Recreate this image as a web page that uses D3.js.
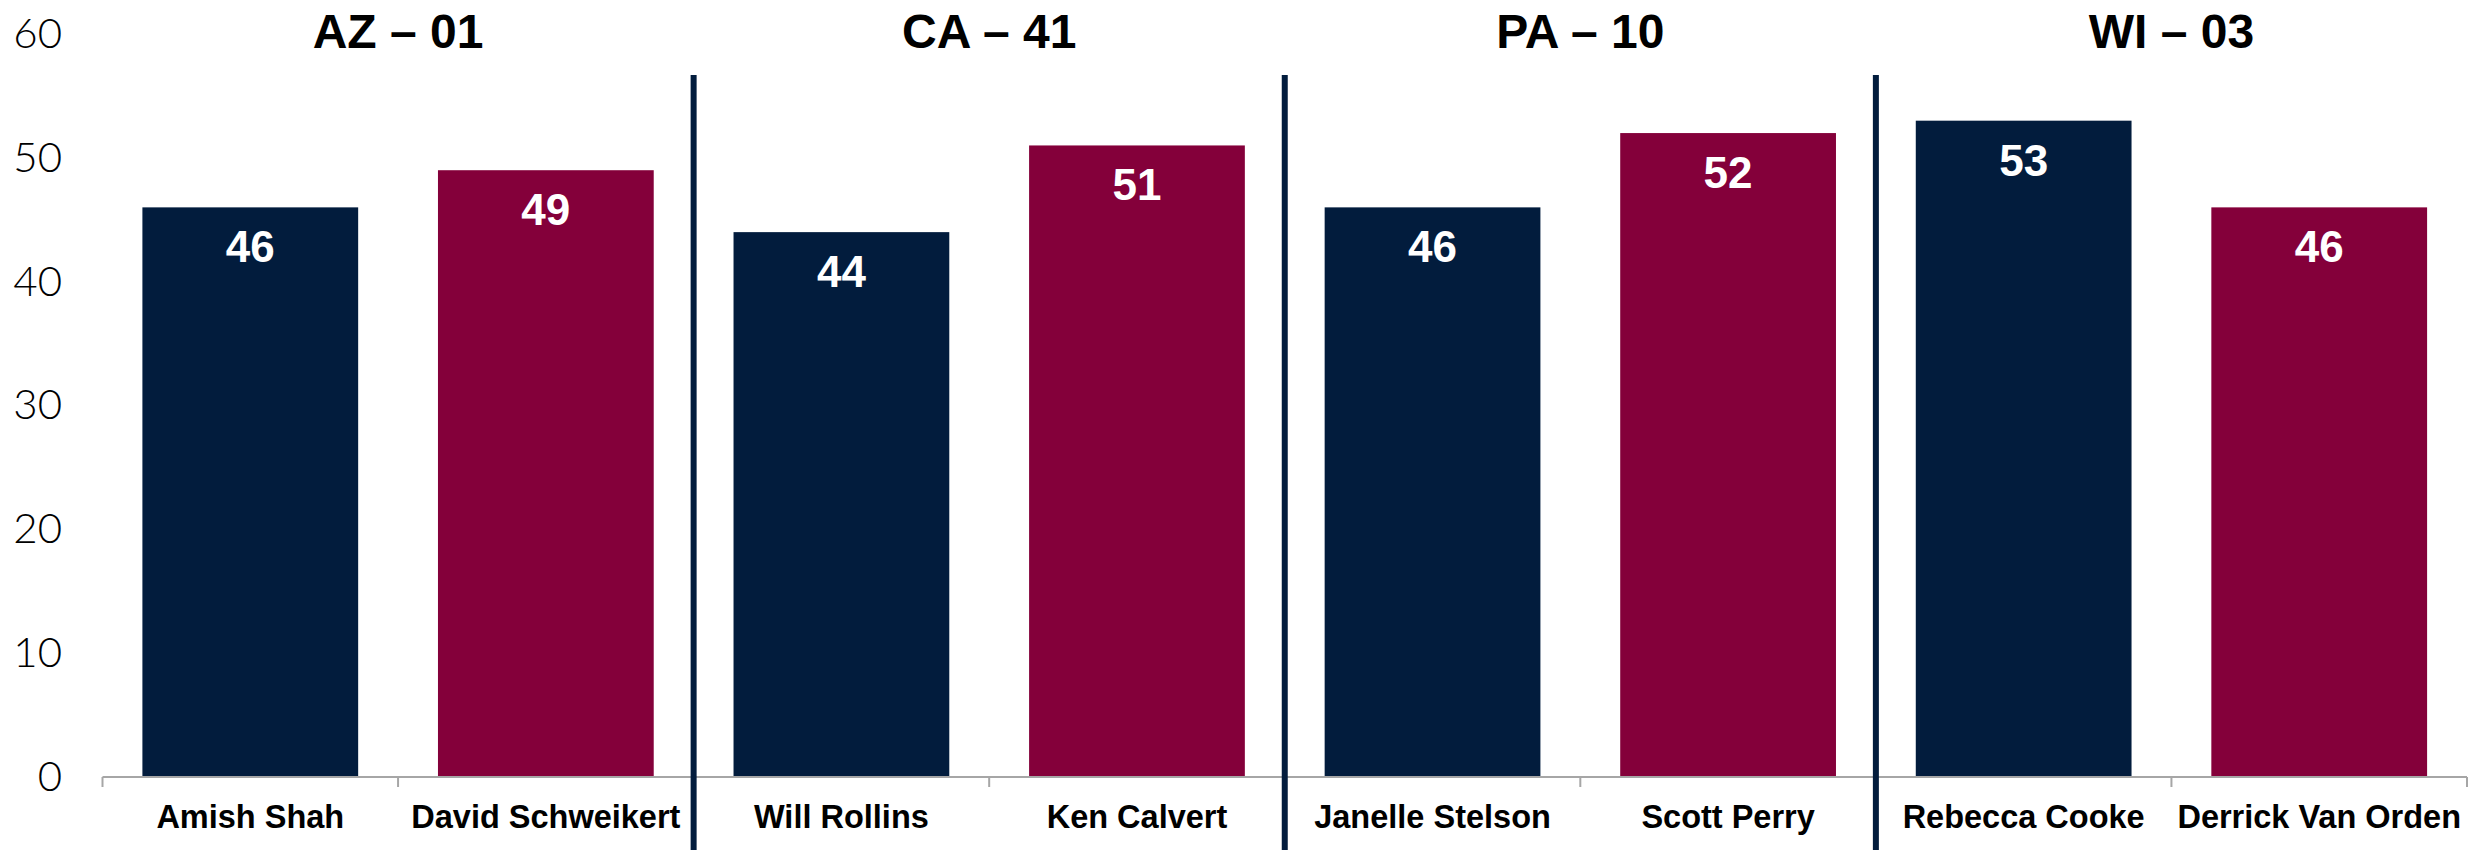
<!DOCTYPE html>
<html>
<head>
<meta charset="utf-8">
<script src="https://cdn.jsdelivr.net/npm/d3@7"></script>
<style>
  html, body { margin: 0; padding: 0; background: #ffffff; }
  svg { display: block; }
</style>
</head>
<body>
<svg id="chart" width="2488" height="850"></svg>
<script>
// ---- data ----
const districts = ["AZ – 01", "CA – 41", "PA – 10", "WI – 03"];
const candidates = ["Amish Shah", "David Schweikert", "Will Rollins", "Ken Calvert",
                    "Janelle Stelson", "Scott Perry", "Rebecca Cooke", "Derrick Van Orden"];
const values = [46, 49, 44, 51, 46, 52, 53, 46];
const parties = ["D", "R", "D", "R", "D", "R", "D", "R"];
const districtOf = [0, 0, 1, 1, 2, 2, 3, 3];
const yTicks = [0, 10, 20, 30, 40, 50, 60];

(function () {
// ---- layout / style ----
const W = 2488, H = 850;
const plotLeft = 102.5, plotRight = 2467, plotBottom = 777, plotTop = 34;
const colorByParty = { D: "#021c3d", R: "#84003a" };

const svg = d3.select("#chart");

const x = d3.scaleBand().domain(candidates).range([plotLeft, plotRight])
  .paddingInner(0.27).paddingOuter(0.135);
const y = d3.scaleLinear().domain([0, 60]).range([plotBottom, plotTop]);

// y axis labels (no line, no ticks)
const yAxis = svg.append("g").attr("transform", "translate(62,0)")
  .call(d3.axisLeft(y).tickValues(yTicks).tickSize(0).tickPadding(0).tickFormat(d3.format("d")));
yAxis.select(".domain").remove();
yAxis.selectAll("text")
  .attr("font-family", "Lato, 'Liberation Sans', sans-serif")
  .attr("font-weight", 300)
  .attr("font-size", 42)
  .attr("fill", "#000");

// bars
const data = candidates.map((c, i) => ({ name: c, value: values[i], party: parties[i], d: districtOf[i] }));
svg.append("g").selectAll("rect").data(data).join("rect")
  .attr("x", d => x(d.name))
  .attr("width", x.bandwidth())
  .attr("y", d => y(d.value))
  .attr("height", d => y(0) - y(d.value))
  .attr("fill", d => colorByParty[d.party]);

// value labels
svg.append("g").selectAll("text").data(data).join("text")
  .attr("x", d => x(d.name) + x.bandwidth() / 2)
  .attr("y", d => y(d.value) + 55)
  .attr("text-anchor", "middle")
  .attr("font-family", "'Liberation Sans', Arial, sans-serif")
  .attr("font-weight", 700)
  .attr("font-size", 44)
  .attr("fill", "#ffffff")
  .text(d => d.value);

// x axis line and boundary ticks
const step = x.step();
const x0 = x.range()[0];
svg.append("line")
  .attr("x1", x0).attr("x2", x.range()[1])
  .attr("y1", y(0)).attr("y2", y(0))
  .attr("stroke", "#a6a6a6").attr("stroke-width", 2);
const boundaries = d3.range(candidates.length + 1).map(i => x0 + i * step);
svg.append("g").selectAll("line").data(boundaries).join("line")
  .attr("x1", d => d).attr("x2", d => d)
  .attr("y1", y(0)).attr("y2", y(0) + 10)
  .attr("stroke", "#a6a6a6").attr("stroke-width", 2);

// category labels
svg.append("g").selectAll("text").data(data).join("text")
  .attr("x", d => x(d.name) + x.bandwidth() / 2)
  .attr("y", 828)
  .attr("text-anchor", "middle")
  .attr("font-family", "'Liberation Sans', Arial, sans-serif")
  .attr("font-weight", 700)
  .attr("font-size", 32.5)
  .attr("fill", "#000")
  .text(d => d.name);

// district separators
const sepX = [1, 2, 3].map(g => x0 + g * 2 * step);
svg.append("g").selectAll("line").data(sepX).join("line")
  .attr("x1", d => d).attr("x2", d => d)
  .attr("y1", 75).attr("y2", H)
  .attr("stroke", "#021c3d").attr("stroke-width", 6);

// district titles
svg.append("g").selectAll("text").data(districts).join("text")
  .attr("x", (d, g) => x0 + (g * 2 + 1) * step)
  .attr("y", 48)
  .attr("text-anchor", "middle")
  .attr("font-family", "'Liberation Sans', Arial, sans-serif")
  .attr("font-weight", 700)
  .attr("font-size", 48)
  .attr("fill", "#000")
  .text(d => d);
})();
</script>
</body>
</html>
